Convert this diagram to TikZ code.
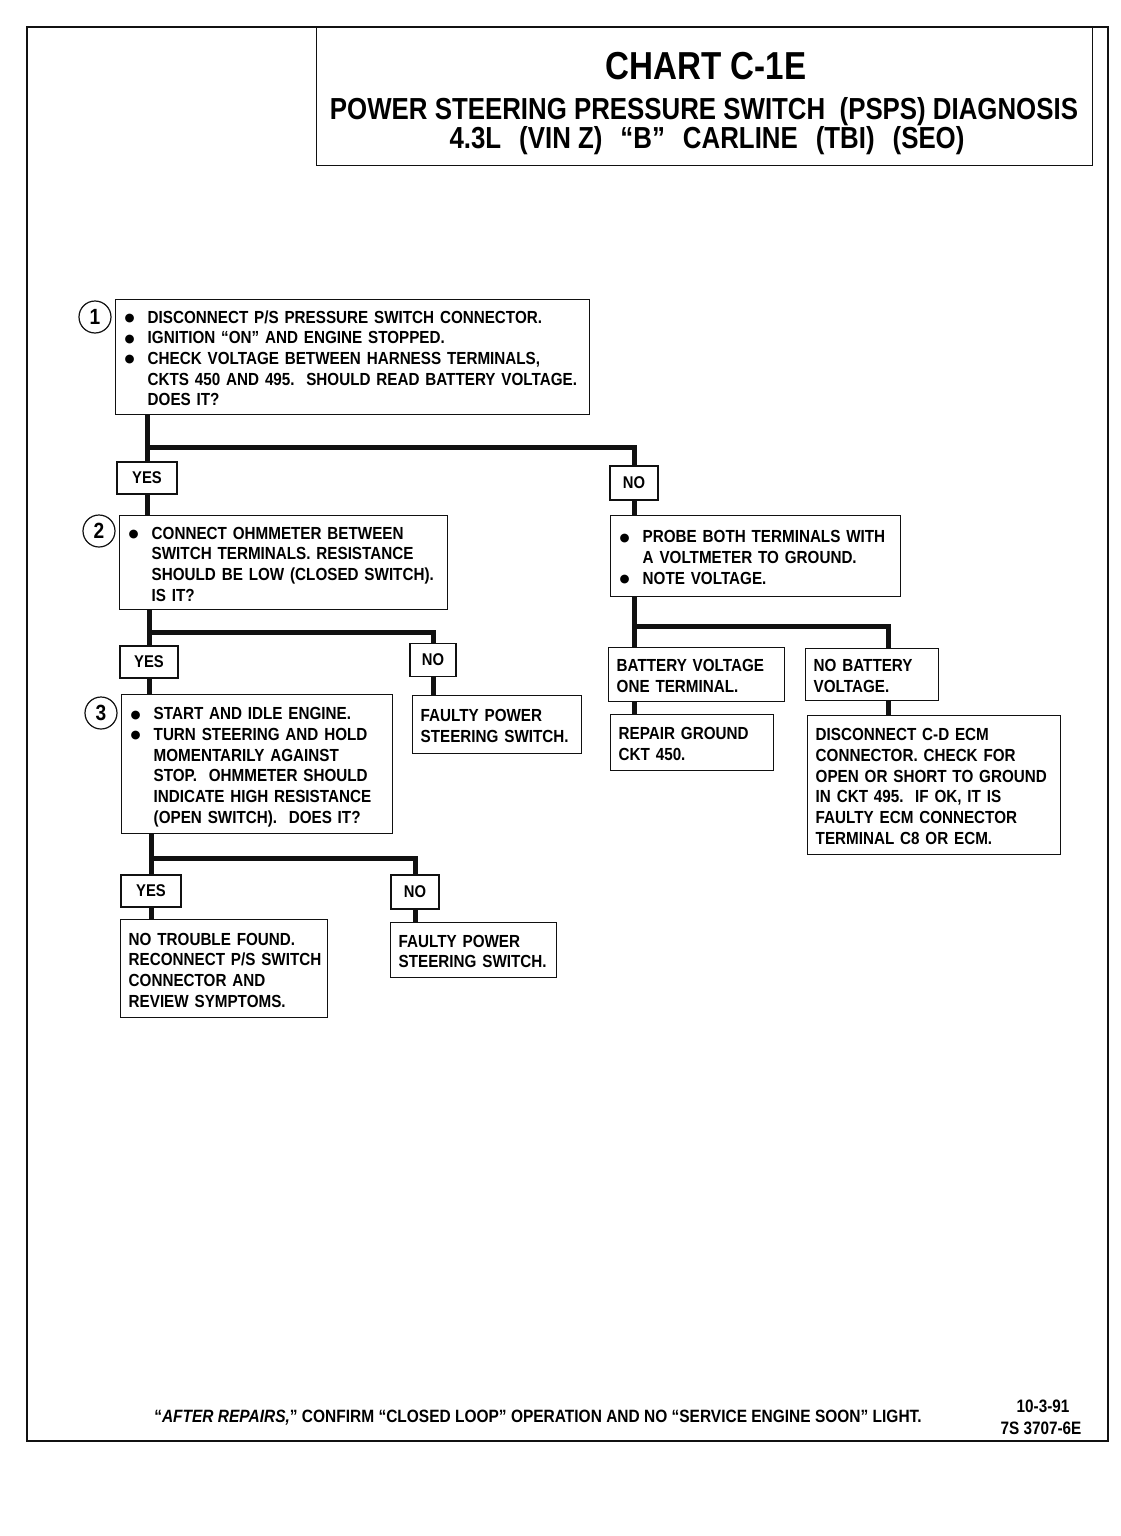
\documentclass[tikz,border=0pt]{standalone}
\usepackage{fontspec}
\setmainfont{Liberation Sans}
\newfontfamily\chartfont[FakeStretch=0.87]{Liberation Sans}
\newfontfamily\titlefont[FakeStretch=0.85]{Liberation Sans}
\newfontfamily\symfont{DejaVu Sans}
\usepackage{tikz}
\usetikzlibrary{positioning,calc}
\definecolor{Ink}{HTML}{111111}
\newcommand{\bul}{\makebox[24pt][l]{\hspace{1pt}\raisebox{1.6pt}{\symfont\fontsize{11.5}{11.5}\selectfont ●}}}
\newcommand{\contd}{\hspace*{24pt}}
\newcommand{\rows}[1]{\begin{tabular}{@{}l@{}}\rule{0pt}{21pt}#1\end{tabular}}
\newcommand{\gap}{\hspace{18pt}}
\tikzset{
  box/.style={draw=Ink,line width=1.4pt,anchor=north west,inner xsep=8pt,inner ysep=0pt,align=left,
    font=\chartfont\bfseries\fontsize{17.5}{20.7}\selectfont},
  ans/.style={draw=Ink,line width=1.4pt,inner sep=0pt,font=\chartfont\bfseries\fontsize{17}{20}\selectfont},
  num/.style={circle,draw=Ink,line width=1.2pt,minimum size=32pt,inner sep=0pt,font=\chartfont\bfseries\fontsize{22}{22}\selectfont},
  conn/.style={draw=Ink,line width=5pt},
  ttl/.style={inner sep=0pt,font=\titlefont\bfseries\fontsize{30.4}{30.4}\selectfont},
  foot/.style={inner sep=0pt,font=\chartfont\bfseries\fontsize{17.8}{20}\selectfont},
  stamp/.style={inner sep=0pt,font=\titlefont\bfseries\fontsize{18}{20}\selectfont}
}

\begin{document}
\begin{tikzpicture}[x=1pt,y=-1pt]
  \useasboundingbox (0,0) rectangle (1120,1536);
  \draw[Ink,line width=2.5pt] (27,27) rectangle (1108,1441);

  % heading
  \node[draw=Ink,line width=1.4pt,anchor=north west,minimum width=776pt,minimum height=138pt,inner sep=0pt] (head) at (316,27) {};
  \node[ttl,font=\titlefont\bfseries\fontsize{39}{39}\selectfont] (t1) at (706,66) {CHART C-1E};
  \node[ttl] (t2) at (704,112) {POWER STEERING PRESSURE SWITCH~~(PSPS) DIAGNOSIS};
  \node[ttl] (t3) at (707,141) {4.3L\gap(VIN Z)\gap“B”\gap CARLINE\gap(TBI)\gap(SEO)};

  % step 1
  \node[box,text width=458pt,minimum height=115pt] (b1) at (115,299)
    {\rows{\bul DISCONNECT P/S PRESSURE SWITCH CONNECTOR.\\
     \bul IGNITION “ON” AND ENGINE STOPPED.\\
     \bul CHECK VOLTAGE BETWEEN HARNESS TERMINALS,\\
     \contd CKTS 450 AND 495.~~SHOULD READ BATTERY VOLTAGE.\\
     \contd DOES IT?}};
  \node[num] (n1) at (95,317) {1};
  \node[ans,minimum width=60pt,minimum height=32pt] (yes1) at (147,478) {YES};
  \node[ans,minimum width=48pt,minimum height=34pt] (no1) at (634,483) {NO};
  \coordinate (j1) at (147,447);
  \draw[conn] (yes1 |- b1.south) -- (yes1.north);
  \draw[conn] (j1) -| (no1.north);

  % step 2
  \node[box,text width=312pt,minimum height=94pt] (b2) at (119,515)
    {\rows{\bul CONNECT OHMMETER BETWEEN\\
     \contd SWITCH TERMINALS. RESISTANCE\\
     \contd SHOULD BE LOW (CLOSED SWITCH).\\
     \contd IS IT?}};
  \node[num] (n2) at (99,531) {2};
  \draw[conn] (yes1.south) -- (yes1.south |- b2.north);

  \node[box,text width=274pt,minimum height=81pt] (probe) at (610,515)
    {\rows{\bul PROBE BOTH TERMINALS WITH\\
     \contd A VOLTMETER TO GROUND.\\
     \bul NOTE VOLTAGE.}};
  \draw[conn] (no1.south) -- (no1.south |- probe.north);

  \node[ans,minimum width=58pt,minimum height=32pt] (yes2) at (149,662) {YES};
  \node[ans,minimum width=46pt,minimum height=33pt] (no2) at (433,660) {NO};
  \coordinate (j2) at (149,632);
  \draw[conn] (yes2 |- b2.south) -- (yes2.north);
  \draw[conn] (j2) -| (no2.north);

  % step 3
  \node[box,text width=255pt,minimum height=139pt] (b3) at (121,694)
    {\rows{\bul START AND IDLE ENGINE.\\
     \bul TURN STEERING AND HOLD\\
     \contd MOMENTARILY AGAINST\\
     \contd STOP.~~OHMMETER SHOULD\\
     \contd INDICATE HIGH RESISTANCE\\
     \contd (OPEN SWITCH).~~DOES IT?}};
  \node[num] (n3) at (101,713) {3};
  \draw[conn] (yes2.south) -- (yes2.south |- b3.north);

  \node[box,text width=153pt,minimum height=58pt] (fault1) at (412,695)
    {\rows{FAULTY POWER\\STEERING SWITCH.}};
  \draw[conn] (no2.south) -- (no2.south |- fault1.north);

  \node[ans,minimum width=60pt,minimum height=32pt] (yes3) at (151,891) {YES};
  \node[ans,minimum width=48pt,minimum height=34pt] (no3) at (415,892) {NO};
  \coordinate (j3) at (151,858);
  \draw[conn] (yes3 |- b3.south) -- (yes3.north);
  \draw[conn] (j3) -| (no3.north);

  \node[box,text width=191pt,minimum height=98pt] (ok) at (120,919)
    {\rows{NO TROUBLE FOUND.\\RECONNECT P/S SWITCH\\CONNECTOR AND\\REVIEW SYMPTOMS.}};
  \node[box,text width=150pt,minimum height=55pt] (fault2) at (390,922)
    {\rows{FAULTY POWER\\STEERING SWITCH.}};
  \draw[conn] (yes3.south) -- (yes3.south |- ok.north);
  \draw[conn] (no3.south) -- (no3.south |- fault2.north);

  % voltage branch
  \node[box,text width=160pt,minimum height=54pt] (bat) at (608,647)
    {\rows{BATTERY VOLTAGE\\ONE TERMINAL.}};
  \node[box,text width=117pt,minimum height=52pt] (nobat) at (805,648)
    {\rows{NO BATTERY\\VOLTAGE.}};
  \coordinate (j4) at (888,626);
  \draw[conn] (no1 |- probe.south) -- (no1 |- bat.north);
  \draw[conn] (no1 |- j4) -- (j4) -- (j4 |- nobat.north);

  \node[box,text width=147pt,minimum height=56pt] (repair) at (610,714)
    {\rows{REPAIR GROUND\\CKT 450.}};
  \node[box,text width=237pt,minimum height=139pt] (ecm) at (807,715)
    {\rows{DISCONNECT C-D ECM\\CONNECTOR. CHECK FOR\\OPEN OR SHORT TO GROUND\\IN CKT 495.~~IF OK, IT IS\\FAULTY ECM CONNECTOR\\TERMINAL C8 OR ECM.}};
  \draw[conn] (no1 |- bat.south) -- (no1 |- repair.north);
  \draw[conn] (j4 |- nobat.south) -- (j4 |- ecm.north);

  % footer
  \node[foot] (note) at (538,1418)
    {“\textit{AFTER REPAIRS,}” CONFIRM “CLOSED LOOP” OPERATION AND NO “SERVICE ENGINE SOON” LIGHT.};
  \node[stamp] (date) at (1043,1406) {10-3-91};
  \node[stamp] (code) at (1041,1428) {7S 3707-6E};
\end{tikzpicture}
\end{document}
